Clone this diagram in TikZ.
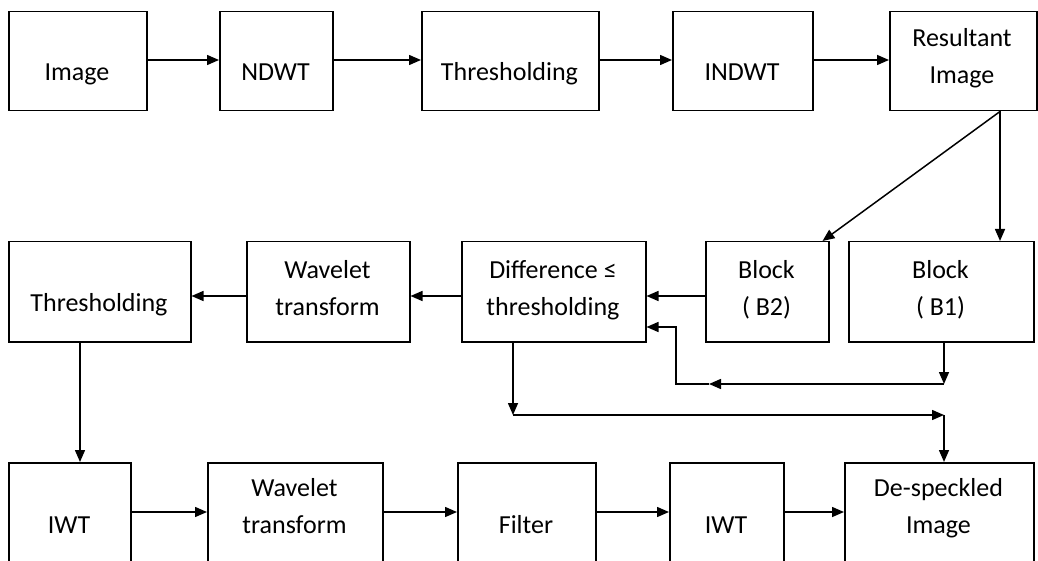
\documentclass[tikz,border=0pt]{standalone}
\usepackage{fontspec}
\setmainfont{Carlito}
\usetikzlibrary{arrows.meta}
\tikzset{
  box/.style={draw, line width=1.5pt, inner sep=0pt, anchor=north west},
  txt/.style={font=\fontsize{26}{37}\selectfont, align=center, inner sep=0pt, yshift=-2pt},
  arr/.style={line width=1.5pt, -{Triangle[length=12pt,width=10pt]}},
  ln/.style={line width=1.5pt}
}
\newcommand\mybox[5]{\node[box, minimum width={(#4-#2)*1pt}, minimum height={(#5-#3)*1pt}] (#1) at (#2,#3) {};}
\newcommand\st{\strut}
\begin{document}
\begin{tikzpicture}[x=1pt,y=-1pt]
\useasboundingbox (0,0) rectangle (1038,561);
\clip (0,0) rectangle (1038,561);
% row 1
\mybox{img}{8}{11}{146}{110}
\mybox{ndwt}{219}{11}{332}{110}
\mybox{thra}{421}{11}{598}{110}
\mybox{indwt}{672}{11}{812}{110}
\mybox{res}{889}{11}{1036}{110}
\node[txt] (imgt) at (77,71) {Image\st};
\node[txt] (ndwtt) at (275.5,71) {NDWT\st};
\node[txt] (thrat) at (509.5,71) {Thresholding\st};
\node[txt] (indwtt) at (742,71) {INDWT\st};
\node[txt] (rest) at (962,55.5) {Resultant\st\\Image\st};
% row 2
\mybox{thrb}{8}{241}{190}{341}
\mybox{wava}{246}{241}{409}{341}
\mybox{diff}{461}{241}{645}{341}
\mybox{btwo}{705}{241}{828}{341}
\mybox{bone}{848}{241}{1033}{341}
\node[txt] (thrbt) at (99,302) {Thresholding\st};
\node[txt] (wavat) at (327.5,288) {Wavelet\st\\transform\st};
\node[txt] (difft) at (553,287.5) {Difference ≤\st\\thresholding\st};
\node[txt] (btwot) at (766.5,287.5) {Block\st\\( B2)\st};
\node[txt] (bonet) at (940.5,287.5) {Block\st\\( B1)\st};
% row 3
\mybox{iwta}{8}{462}{130}{600}
\mybox{wavb}{207}{462}{382}{600}
\mybox{filt}{457}{462}{595}{600}
\mybox{iwtb}{669}{462}{783}{600}
\mybox{desp}{844}{462}{1033}{600}
\node[txt] (iwtat) at (69,524) {IWT\st};
\node[txt] (wavbt) at (294.5,506) {Wavelet\st\\transform\st};
\node[txt] (filtt) at (526,524) {Filter\st};
\node[txt] (iwtbt) at (726,524) {IWT\st};
\node[txt] (despt) at (938.5,505.5) {De-speckled\st\\Image\st};
% helper coordinates
\coordinate (ra) at (0,60);
\coordinate (rb) at (0,296);
\coordinate (rc) at (0,512);
\coordinate (rx) at (1000,0);
\coordinate (lx) at (944,0);
\coordinate (ly) at (0,384);
\coordinate (lm) at (709,384);
\coordinate (lc) at (676,384);
\coordinate (lu) at (676,327);
\coordinate (dx) at (513,0);
\coordinate (dy) at (0,415);
\coordinate (tx) at (80,0);
% row 1 arrows
\draw[arr] (img.east |- ra) -- (ndwt.west |- ra);
\draw[arr] (ndwt.east |- ra) -- (thra.west |- ra);
\draw[arr] (thra.east |- ra) -- (indwt.west |- ra);
\draw[arr] (indwt.east |- ra) -- (res.west |- ra);
% resultant to blocks
\draw[arr] (res.south -| rx) -- (bone.north -| rx);
\draw[arr] (res.south -| rx) -- ([xshift=-7pt]btwo.north east);
% row 2 arrows
\draw[arr] (btwo.west |- rb) -- (diff.east |- rb);
\draw[arr] (diff.west |- rb) -- (wava.east |- rb);
\draw[arr] (wava.west |- rb) -- (thrb.east |- rb);
% B1 loop
\draw[arr] (bone.south -| lx) -- (lx |- ly);
\draw[arr] (lx |- ly) -- (lm);
\draw[arr] (lm) -- (lc) -- (lu) -- (diff.east |- lu);
% difference to de-speckled
\draw[arr] (diff.south -| dx) -- (dx |- dy);
\draw[arr] (dx |- dy) -- (lx |- dy);
\draw[arr] (lx |- dy) -- (desp.north -| lx);
% thresholding down
\draw[arr] (thrb.south -| tx) -- (iwta.north -| tx);
% row 3 arrows
\draw[arr] (iwta.east |- rc) -- (wavb.west |- rc);
\draw[arr] (wavb.east |- rc) -- (filt.west |- rc);
\draw[arr] (filt.east |- rc) -- (iwtb.west |- rc);
\draw[arr] (iwtb.east |- rc) -- (desp.west |- rc);
\end{tikzpicture}
\end{document}
